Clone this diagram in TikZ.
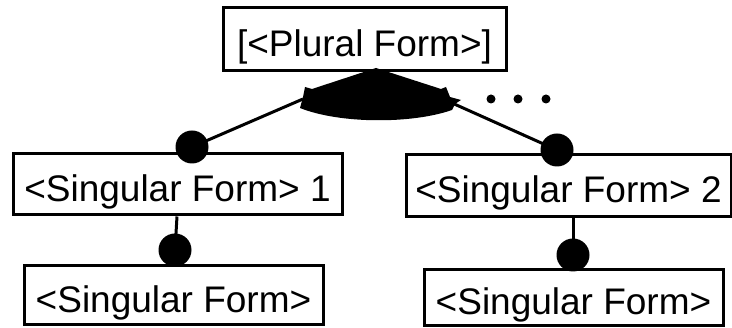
\documentclass[tikz,border=0pt]{standalone}
\usepackage{fontspec}
\setmainfont{Liberation Sans}
\begin{document}
\begin{tikzpicture}[x=1pt,y=-1pt,
  featbox/.style={draw, line width=3pt, rectangle, inner sep=0pt,
    text height=37pt, text depth=3pt,
    font=\fontsize{37}{44}\selectfont},
  dot/.style={circle, fill, inner sep=0pt, minimum size=33pt},
  smalldot/.style={circle, fill, inner sep=0pt, minimum size=9pt},
  link/.style={line width=3pt}]
\useasboundingbox (0,0) rectangle (732,328);

% feature boxes
\node[featbox, minimum width=283pt, minimum height=63pt] (plural) at (364.5,39.5) {[<Plural Form>]};
\node[featbox, minimum width=329pt, minimum height=61pt] (sing1) at (177.5,184.5) {<Singular Form> 1};
\node[featbox, minimum width=325pt, minimum height=62pt] (sing2) at (568.5,186) {<Singular Form> 2};
\node[featbox, minimum width=299pt, minimum height=59pt] (leafA) at (173.5,295.5) {<Singular Form>};
\node[featbox, minimum width=299pt, minimum height=56pt] (leafB) at (573.5,298) {<Singular Form>};

% or-group wedge under the parent feature
\coordinate (wl) at (303,99);
\coordinate (wr) at (452,103);
\fill (376,68) -- (312,89) -- (305,87) -- (303,97) -- (300,108)
  .. controls (340,124) and (412,124) .. (452,110)
  -- (455,104) -- (461,100) -- (450,97) -- (446,87) -- (441,89) -- cycle;

% mandatory-feature dots
\node[dot] (d1) at (192,147) {};
\node[dot] (d2) at (557,150) {};
\node[dot] (d3) at (175,250) {};
\node[dot] (d4) at (573,255) {};

% connectors
\draw[link] (d1.center) -- (wl);
\draw[link] (d2.center) -- (wr);
\draw[link] (sing1.south -| 177,0) -- (d3.center);
\draw[link] (sing2.south -| 573,0) -- (d4.center);

% ellipsis
\node[smalldot] (e1) at (491,99) {};
\node[smalldot] (e2) at (518,99) {};
\node[smalldot] (e3) at (546,99) {};
\end{tikzpicture}
\end{document}
